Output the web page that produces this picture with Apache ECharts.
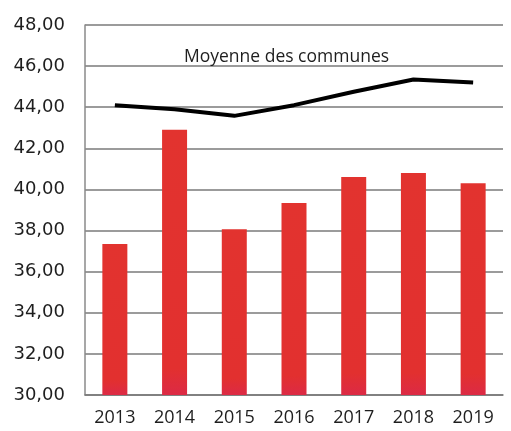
<!DOCTYPE html>
<html>
<head>
<meta charset="utf-8">
<script src="https://cdn.jsdelivr.net/npm/echarts@6/dist/echarts.min.js"></script>
<style>html,body{margin:0;padding:0;background:#fff}#c{width:511px;height:431px}</style>
</head>
<body>
<div id="c"></div>
<script>
var categories = ['2013','2014','2015','2016','2017','2018','2019'];
var barValues = [37.35, 42.9, 38.06, 39.34, 40.6, 40.8, 40.3];
var moyenneValues = [44.1, 43.9, 43.58, 44.1, 44.75, 45.35, 45.2];
var lineLabel = 'Moyenne des communes';

var chart = echarts.init(document.getElementById('c'));
chart.setOption({
  backgroundColor: '#ffffff',
  animation: false,
  title: {
    text: lineLabel,
    left: 179, top: 43,
    textStyle: {fontFamily: 'Open Sans', fontSize: 17.5, fontWeight: 'normal', color: '#1e1e1e'}
  },
  grid: {left: 85, right: 8, top: 25, bottom: 36},
  xAxis: {
    type: 'category',
    data: categories,
    axisLine: {lineStyle: {color: '#7a7a7a', width: 1.5}},
    axisTick: {show: false},
    axisLabel: {fontFamily: 'Open Sans', fontSize: 18, color: '#1e1e1e', margin: 14}
  },
  yAxis: {
    type: 'value',
    min: 30, max: 48, interval: 2,
    axisLine: {show: true, lineStyle: {color: '#8a8a8a', width: 1.5}},
    axisTick: {show: false},
    splitLine: {lineStyle: {color: '#7a7a7a', width: 1.5}},
    axisLabel: {
      fontFamily: 'DejaVu Sans', fontSize: 18, color: '#1e1e1e', margin: 20,
      formatter: function (v) { return v.toFixed(2).replace('.', ','); }
    }
  },
  series: [
    {
      type: 'bar',
      data: barValues,
      barWidth: 25,
      itemStyle: {
        color: new echarts.graphic.LinearGradient(0, 0, 0, 1, [
          {offset: 0, color: '#e2332f'},
          {offset: 0.9, color: '#e2302f'},
          {offset: 1, color: '#dc2a45'}
        ])
      }
    },
    {
      type: 'line',
      data: moyenneValues,
      symbol: 'none',
      smooth: false,
      lineStyle: {color: '#000', width: 4}
    }
  ]
});
</script>
</body>
</html>
